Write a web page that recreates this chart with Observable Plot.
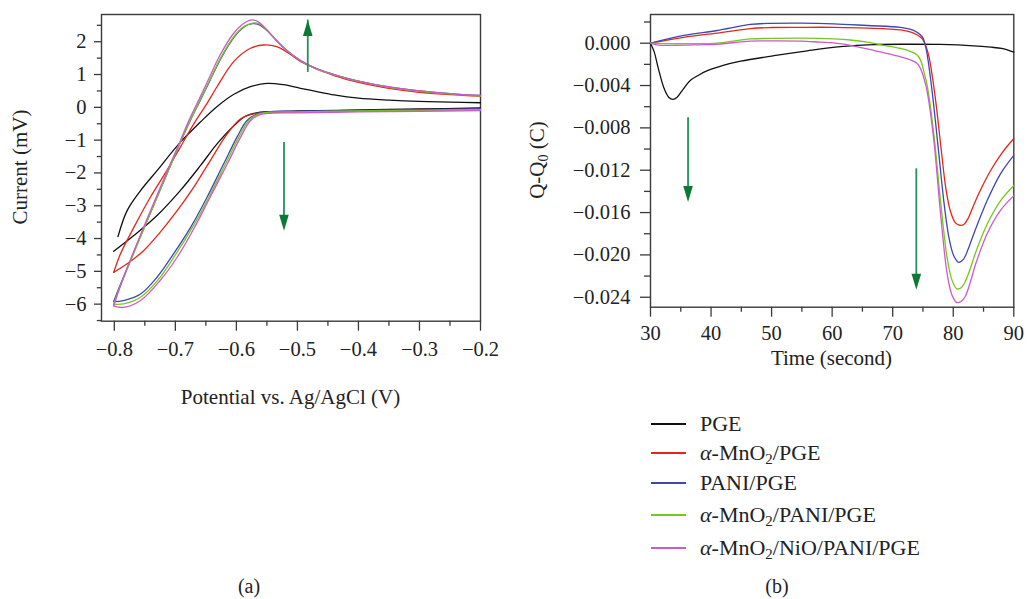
<!DOCTYPE html>
<html>
<head>
<meta charset="utf-8">
<script src="https://cdn.jsdelivr.net/npm/d3@7"></script>
<script src="https://cdn.jsdelivr.net/npm/@observablehq/plot@0.6"></script>
<style>
  html, body { margin: 0; padding: 0; background: #fff; }
  #root { position: relative; width: 1027px; height: 599px; overflow: hidden; font-family: "Liberation Serif", "DejaVu Serif", serif; color: #222; }
  .panel { position: absolute; top: 0; }
  .lbl { position: absolute; white-space: nowrap; font-size: 21px; line-height: 1; }
  .leg { font-size: 22px; }
  .cap { font-size: 20px; }
  sub { font-size: 0.68em; vertical-align: -0.3em; line-height: 0; }
</style>
</head>
<body>
<div id="root"></div>
<script>
// ---------------- Data ----------------
const seriesNames = ["PGE", "α-MnO2/PGE", "PANI/PGE", "α-MnO2/PANI/PGE", "α-MnO2/NiO/PANI/PGE"];
const seriesColors = ["#111111", "#e3261c", "#3c48b2", "#76c81c", "#cc5bc8"];

// Panel (a): cyclic voltammograms, [potential (V), current]; forward scan (to -0.2 V) then reverse scan
const cvPGE = [[-0.794,-3.94],[-0.779,-3.15],[-0.757,-2.54],[-0.730,-1.93],[-0.692,-1.07],[-0.659,-0.45],[-0.632,0.02],[-0.604,0.40],[-0.577,0.63],[-0.550,0.73],[-0.523,0.69],[-0.495,0.58],[-0.468,0.48],[-0.440,0.38],[-0.40,0.28],[-0.35,0.22],[-0.30,0.18],[-0.25,0.16],[-0.20,0.14],
  [-0.20,-0.02],[-0.30,-0.05],[-0.40,-0.08],[-0.50,-0.11],[-0.544,-0.13],[-0.561,-0.15],[-0.583,-0.25],[-0.604,-0.56],[-0.632,-1.12],[-0.659,-1.78],[-0.692,-2.54],[-0.730,-3.30],[-0.768,-3.91],[-0.801,-4.39]];
const cvMnO2 = [[-0.801,-5.03],[-0.790,-4.47],[-0.768,-3.66],[-0.741,-2.74],[-0.714,-1.93],[-0.692,-1.22],[-0.670,-0.51],[-0.647,0.15],[-0.632,0.62],[-0.604,1.40],[-0.577,1.80],[-0.555,1.90],[-0.534,1.85],[-0.512,1.62],[-0.495,1.40],[-0.468,1.17],[-0.440,0.97],[-0.40,0.76],[-0.35,0.58],[-0.30,0.46],[-0.25,0.39],[-0.20,0.34],
  [-0.20,-0.05],[-0.30,-0.08],[-0.40,-0.11],[-0.50,-0.14],[-0.544,-0.15],[-0.571,-0.20],[-0.593,-0.35],[-0.615,-0.81],[-0.643,-1.63],[-0.670,-2.44],[-0.697,-3.15],[-0.725,-3.81],[-0.752,-4.37],[-0.779,-4.77],[-0.801,-5.03]];
const cvPANI = [[-0.801,-5.92],[-0.790,-5.40],[-0.768,-4.42],[-0.741,-3.22],[-0.714,-2.04],[-0.692,-1.07],[-0.676,-0.42],[-0.659,0.22],[-0.643,0.83],[-0.626,1.47],[-0.604,2.13],[-0.588,2.44],[-0.574,2.55],[-0.563,2.52],[-0.550,2.34],[-0.534,2.03],[-0.517,1.73],[-0.495,1.42],[-0.468,1.17],[-0.440,1.00],[-0.40,0.80],[-0.35,0.62],[-0.30,0.50],[-0.25,0.42],[-0.20,0.36],
  [-0.20,-0.05],[-0.30,-0.07],[-0.40,-0.09],[-0.50,-0.12],[-0.544,-0.13],[-0.566,-0.20],[-0.583,-0.41],[-0.599,-0.91],[-0.621,-1.73],[-0.648,-2.74],[-0.675,-3.66],[-0.703,-4.47],[-0.730,-5.18],[-0.757,-5.69],[-0.785,-5.89],[-0.801,-5.92]];
const cvMnO2PANI = [[-0.801,-6.00],[-0.790,-5.44],[-0.768,-4.44],[-0.741,-3.23],[-0.714,-2.04],[-0.692,-1.07],[-0.676,-0.41],[-0.659,0.24],[-0.643,0.85],[-0.626,1.50],[-0.604,2.16],[-0.588,2.46],[-0.573,2.57],[-0.562,2.54],[-0.550,2.36],[-0.534,2.04],[-0.517,1.73],[-0.495,1.42],[-0.468,1.16],[-0.440,0.99],[-0.40,0.79],[-0.35,0.61],[-0.30,0.49],[-0.25,0.41],[-0.20,0.35],
  [-0.20,-0.07],[-0.30,-0.09],[-0.40,-0.11],[-0.50,-0.14],[-0.544,-0.15],[-0.564,-0.21],[-0.580,-0.41],[-0.596,-0.91],[-0.618,-1.73],[-0.645,-2.74],[-0.672,-3.66],[-0.700,-4.50],[-0.727,-5.23],[-0.757,-5.79],[-0.785,-5.99],[-0.801,-6.00]];
const cvMnO2NiO = [[-0.801,-6.05],[-0.791,-5.50],[-0.770,-4.48],[-0.743,-3.25],[-0.716,-2.06],[-0.693,-1.07],[-0.678,-0.41],[-0.661,0.25],[-0.645,0.88],[-0.628,1.55],[-0.606,2.22],[-0.590,2.53],[-0.577,2.66],[-0.566,2.63],[-0.553,2.42],[-0.536,2.07],[-0.518,1.74],[-0.495,1.43],[-0.468,1.17],[-0.440,1.00],[-0.40,0.80],[-0.35,0.62],[-0.30,0.50],[-0.25,0.42],[-0.20,0.36],
  [-0.20,-0.10],[-0.30,-0.12],[-0.40,-0.14],[-0.50,-0.17],[-0.544,-0.18],[-0.561,-0.22],[-0.577,-0.41],[-0.593,-0.91],[-0.615,-1.73],[-0.643,-2.74],[-0.670,-3.71],[-0.697,-4.57],[-0.725,-5.28],[-0.757,-5.89],[-0.785,-6.10],[-0.801,-6.05]];

// Panel (b): charge Q-Q0 (C) vs time (s)
const qPGE = [[30,0],[30.6,-0.0008],[31.3,-0.0024],[32.2,-0.0042],[33.0,-0.0051],[33.7,-0.0053],[34.4,-0.0051],[35.2,-0.0045],[36.6,-0.0035],[38,-0.0030],[39.4,-0.0026],[42,-0.0021],[44.9,-0.0017],[50.4,-0.00118],[55.9,-0.00072],[61.4,-0.00033],[66.9,-0.00013],[72.4,-0.0001],[77.9,-0.00012],[83.4,-0.00025],[86.2,-0.00038],[88,-0.0005],[90,-0.00085]];
const qMnO2 = [[30,0],[35.5,0.00055],[41,0.00095],[46.5,0.00138],[50,0.00148],[54.8,0.0015],[60.3,0.0015],[65.8,0.00143],[71.3,0.00126],[73,0.00105],[74.0,0.0008],[74.9,0.0004],[75.5,-0.0003],[76.0,-0.0013],[77.0,-0.0050],[78.0,-0.0100],[78.8,-0.0138],[79.6,-0.0160],[80.4,-0.0170],[81.1,-0.0172],[81.8,-0.0171],[82.5,-0.0165],[83.3,-0.0154],[84.3,-0.0141],[86.2,-0.0120],[88,-0.0104],[90,-0.0090]];
const qPANI = [[30,0],[35.5,0.00073],[41,0.0012],[46.5,0.00177],[50,0.00188],[54.8,0.0019],[60.3,0.00183],[65.8,0.00167],[71.3,0.0015],[73,0.0013],[74.0,0.00104],[74.9,0.0006],[75.5,-0.0005],[76.5,-0.0045],[77.5,-0.0098],[78.5,-0.0152],[79.3,-0.0184],[80.1,-0.0201],[80.9,-0.0207],[81.7,-0.0204],[82.5,-0.0194],[83.4,-0.0180],[85.6,-0.01487],[87.8,-0.01234],[90,-0.0106]];
const qMnO2PANI = [[30,0],[33,-0.00005],[36,-0.00005],[41,0],[46.5,0.0004],[50,0.00045],[54.8,0.00047],[60.3,0.0004],[63,0.0003],[65.8,0.0001],[68.5,-0.0002],[71.3,-0.0005],[73,-0.0008],[74.0,-0.0011],[74.6,-0.0016],[75.2,-0.0028],[75.7,-0.0040],[76.8,-0.0086],[77.9,-0.0149],[79.0,-0.0203],[79.8,-0.0224],[80.6,-0.0232],[81.3,-0.0231],[82.0,-0.0225],[82.8,-0.0213],[83.8,-0.0196],[85.6,-0.0171],[87.8,-0.0149],[90,-0.01345]];
const qMnO2NiO = [[30,0],[31,-0.00015],[33.9,-0.0002],[38,-0.00015],[41,-0.0001],[46.5,0.0002],[50,0.00022],[54.8,0.0002],[58,0.0001],[60.3,0.00003],[63,-0.0002],[65.8,-0.00053],[68.5,-0.0009],[71.3,-0.0013],[73,-0.0016],[74,-0.0019],[74.6,-0.0024],[75.2,-0.0034],[75.7,-0.0046],[76.8,-0.0092],[77.9,-0.0161],[79.0,-0.0218],[79.8,-0.0238],[80.6,-0.0245],[81.3,-0.0244],[82.0,-0.0239],[82.8,-0.0226],[83.8,-0.0207],[85.6,-0.0180],[87.8,-0.0158],[90,-0.0144]];

// Ticks
const aXTicks = [-0.8, -0.7, -0.6, -0.5, -0.4, -0.3, -0.2];
const aXMinor = [-0.75, -0.65, -0.55, -0.45, -0.35, -0.25];
const aYTicks = [-6, -5, -4, -3, -2, -1, 0, 1, 2];
const aYMinor = [-6.5, -5.5, -4.5, -3.5, -2.5, -1.5, -0.5, 0.5, 1.5, 2.5];
const bXTicks = [30, 40, 50, 60, 70, 80, 90];
const bXMinor = [35, 45, 55, 65, 75, 85];
const bYTicks = [-0.024, -0.020, -0.016, -0.012, -0.008, -0.004, 0.000];
const bYMinor = [-0.022, -0.018, -0.014, -0.010, -0.006, -0.002, 0.002];

// Trend arrows (annotations)
const arrowsAUp = [{x: -0.483, y1: 1.37, y2: 2.66}];
const arrowsADown = [{x: -0.522, y1: -1.07, y2: -3.76}];
const arrowsBDown = [{x: 36.2, y1: -0.00705, y2: -0.0150}, {x: 73.9, y1: -0.01187, y2: -0.0233}];

// ---------------- Drawing ----------------
const cvSeries = [cvPGE, cvMnO2, cvPANI, cvMnO2PANI, cvMnO2NiO];
const qSeries = [qPGE, qMnO2, qPANI, qMnO2PANI, qMnO2NiO];
const AXIS = "#3a3a3a";
const GREEN_SHAFT = "#22935a";
const GREEN_HEAD = "#0b7a35";
const FONT = "Liberation Serif, DejaVu Serif, serif";
const TICKFONT = 20.5;

const headSymbol = { draw(ctx) { ctx.moveTo(0, 0); ctx.lineTo(4.8, 16); ctx.lineTo(-4.8, 16); ctx.closePath(); } };

// split a CV loop into its forward and reverse scans (the turn is at the right edge)
function scans(pts) {
  const k = pts.findIndex((p, i) => i > 0 && p[0] === -0.2) + 1;
  return [pts.slice(0, k), pts.slice(k)];
}

function seriesLines(list, split) {
  const out = [];
  list.forEach((pts, i) => {
    const parts = split ? scans(pts) : [pts];
    parts.forEach(part => out.push(Plot.line(part, {x: d => d[0], y: d => d[1], stroke: seriesColors[i], strokeWidth: 1.3, curve: "catmull-rom"})));
  });
  return out;
}

function axes(o) {
  return [
    Plot.axisX(o.xTicks, {tickSize: o.xTick, tickPadding: o.xPad, tickFormat: o.xFmt, fontSize: TICKFONT, stroke: AXIS, strokeWidth: 1.3, fill: "#222"}),
    Plot.axisX(o.xMinor, {tickSize: o.xTick / 2, tickFormat: () => "", stroke: AXIS, strokeWidth: 1.3}),
    Plot.axisY(o.yTicks, {tickSize: o.yTick, tickPadding: o.yPad, tickFormat: o.yFmt, fontSize: TICKFONT, stroke: AXIS, strokeWidth: 1.3, fill: "#222"}),
    Plot.axisY(o.yMinor, {tickSize: o.yTick * 0.6, tickFormat: () => "", stroke: AXIS, strokeWidth: 1.3}),
    Plot.frame({stroke: AXIS, strokeWidth: 1.4})
  ];
}

const plotA = Plot.plot({
  width: 500, height: 420,
  marginLeft: 101, marginRight: 20, marginTop: 14, marginBottom: 99.3,
  style: {fontFamily: FONT, fontSize: TICKFONT + "px", background: "transparent", overflow: "visible"},
  x: {domain: [-0.821, -0.2], label: null},
  y: {domain: [-6.52, 2.83], label: null},
  marks: [
    ...axes({xTicks: aXTicks, xMinor: aXMinor, xTick: 10, xPad: 10.5, xFmt: d3.format(".1f"),
             yTicks: aYTicks, yMinor: aYMinor, yTick: 7, yPad: 8, yFmt: d3.format("d")}),
    ...seriesLines(cvSeries, true),
    Plot.ruleX(arrowsAUp, {x: "x", y1: "y1", y2: "y2", stroke: GREEN_SHAFT, strokeWidth: 1.8, insetTop: 10}),
    Plot.ruleX(arrowsADown, {x: "x", y1: "y1", y2: "y2", stroke: GREEN_SHAFT, strokeWidth: 1.8, insetBottom: 10}),
    Plot.dot(arrowsAUp, {x: "x", y: "y2", symbol: headSymbol, fill: GREEN_HEAD, stroke: null, r: 5}),
    Plot.dot(arrowsADown, {x: "x", y: "y2", symbol: headSymbol, fill: GREEN_HEAD, stroke: null, r: 5, rotate: 180})
  ]
});

const plotB = Plot.plot({
  width: 527, height: 420,
  marginLeft: 150, marginRight: 13.7, marginTop: 14, marginBottom: 113.3,
  style: {fontFamily: FONT, fontSize: TICKFONT + "px", background: "transparent", overflow: "visible"},
  x: {domain: [30, 90], label: null},
  y: {domain: [-0.02494, 0.00271], label: null},
  marks: [
    ...axes({xTicks: bXTicks, xMinor: bXMinor, xTick: 10, xPad: 8.5, xFmt: d3.format("d"),
             yTicks: bYTicks, yMinor: bYMinor, yTick: 10, yPad: 10, yFmt: d3.format(".3f")}),
    ...seriesLines(qSeries, false),
    Plot.ruleX(arrowsBDown, {x: "x", y1: "y1", y2: "y2", stroke: GREEN_SHAFT, strokeWidth: 1.8, insetBottom: 10}),
    Plot.dot(arrowsBDown, {x: "x", y: "y2", symbol: headSymbol, fill: GREEN_HEAD, stroke: null, r: 5, rotate: 180})
  ]
});

const root = document.getElementById("root");
function panel(node, left) {
  const d = document.createElement("div");
  d.className = "panel";
  d.style.left = left + "px";
  d.appendChild(node);
  root.appendChild(d);
}
panel(plotA, 0);
panel(plotB, 500);

function label(html, cx, cy, rot, cls) {
  const d = document.createElement("div");
  d.className = "lbl" + (cls ? " " + cls : "");
  d.innerHTML = html;
  d.style.left = cx + "px";
  d.style.top = cy + "px";
  d.style.transform = "translate(-50%, -50%)" + (rot ? ` rotate(${rot}deg)` : "");
  root.appendChild(d);
  return d;
}

// Axis titles
label("Current (mV)", 20, 167, -90);
label("Potential vs. Ag/AgCl (V)", 290.5, 397);
label("Time (second)", 831.5, 357.5);
label("Q-Q<sub>0</sub> (C)", 537, 160, -90);

// Legend
const legendHTML = [
  "PGE",
  "<i>α</i>-MnO<sub>2</sub>/PGE",
  "PANI/PGE",
  "<i>α</i>-MnO<sub>2</sub>/PANI/PGE",
  "<i>α</i>-MnO<sub>2</sub>/NiO/PANI/PGE"
];
const legendY = [424, 453, 483, 515, 548];
legendHTML.forEach((h, i) => {
  const line = document.createElement("div");
  line.style.cssText = `position:absolute;left:651px;top:${legendY[i] - 0.75}px;width:35px;height:1.5px;background:${seriesColors[i]};`;
  line.title = seriesNames[i];
  root.appendChild(line);
  const t = document.createElement("div");
  t.className = "lbl leg";
  t.innerHTML = h;
  t.style.left = "700px";
  t.style.top = legendY[i] + "px";
  t.style.transform = "translate(0, -50%)";
  root.appendChild(t);
});

// Panel captions
label("(a)", 249, 586, 0, "cap");
label("(b)", 777, 586, 0, "cap");
</script>
</body>
</html>
